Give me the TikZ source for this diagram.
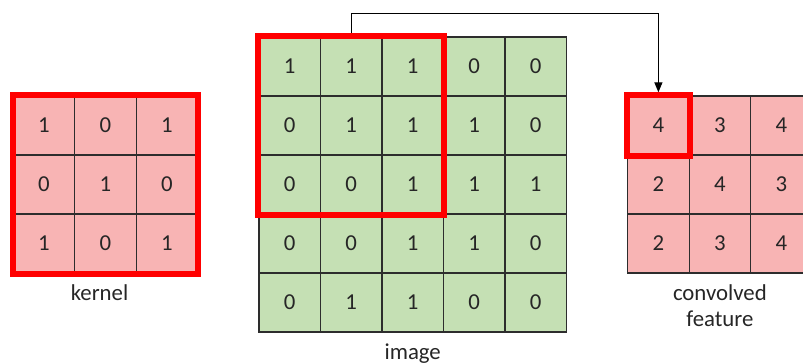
\documentclass[tikz,border=0pt]{standalone}
\usepackage{fontspec}
\setmainfont{Carlito}
\usetikzlibrary{matrix,positioning,arrows.meta}

\definecolor{cellpink}{RGB}{248,180,180}
\definecolor{cellgreen}{RGB}{197,224,180}
\definecolor{gridline}{RGB}{45,45,45}

\tikzstyle{cell} = [rectangle, minimum width=30.75pt, minimum height=29.5pt, inner sep=0pt, outer sep=0.3pt, draw=gridline, line width=0.6pt, text=black!85, font=\fontsize{11.4}{13}\selectfont]
\tikzstyle{grid} = [matrix of nodes, inner sep=0pt, outer sep=0pt, column sep=-0.6pt, row sep=-0.6pt]
\tikzstyle{redbox} = [draw=red, line width=3pt]
\tikzstyle{arrow} = [line width=0.6pt, -{Triangle[length=5pt,width=4pt]}]
\tikzstyle{caption} = [font=\fontsize{11.4}{13}\selectfont, text=black!85, align=center]

\begin{document}
\begin{tikzpicture}[x=0.5pt, y=-0.5pt]
\useasboundingbox (0,0) rectangle (803,363);
\matrix (kernel) [grid, nodes={cell, fill=cellpink}] at (105.5,184.5)
{
    1 & 0 & 1 \\
    0 & 1 & 0 \\
    1 & 0 & 1 \\
};
\matrix (image) [grid, nodes={cell, fill=cellgreen}, right=30pt of kernel]
{
    1 & 1 & 1 & 0 & 0 \\
    0 & 1 & 1 & 1 & 0 \\
    0 & 0 & 1 & 1 & 1 \\
    0 & 0 & 1 & 1 & 0 \\
    0 & 1 & 1 & 0 & 0 \\
};
\matrix (conv) [grid, nodes={cell, fill=cellpink}, right=30pt of image]
{
    4 & 3 & 4 \\
    2 & 4 & 3 \\
    2 & 3 & 4 \\
};
\node (kernel_label) [caption, below=2pt of kernel, xshift=-3pt] {kernel};
\node (image_label) [caption, below=2pt of image] {image};
\node (conv_label) [caption, below=2pt of conv] {convolved\\feature};
\draw [arrow, shorten >=1.5pt] (image-1-2.north) -- ++(0,-23) -| (conv-1-1.north);
%\draw [redbox] (image.north west) rectangle (image.south east);
\draw [redbox] (kernel-1-1.north west) rectangle (kernel-3-3.south east);
\draw [redbox] (image-1-1.north west) rectangle (image-3-3.south east);
\draw [redbox] (conv-1-1.north west) rectangle (conv-1-1.south east);
\end{tikzpicture}
\end{document}
